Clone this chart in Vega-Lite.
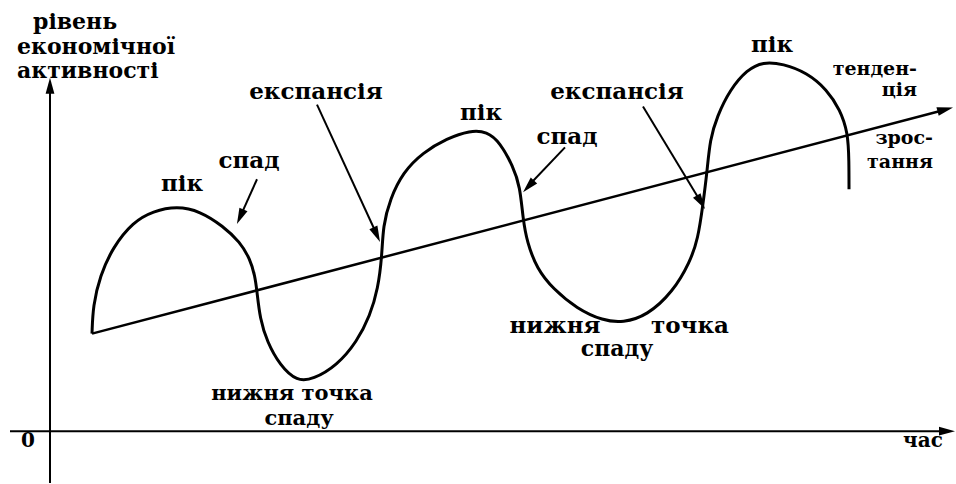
{
  "$schema": "https://vega.github.io/schema/vega-lite/v6.json",
  "width": 956,
  "height": 484,
  "autosize": {"type": "fit", "contains": "padding"},
  "padding": 0,
  "background": "white",
  "config": {"view": {"stroke": null}},
  "datasets": {
    "curve": [
      {"i":0,"x":4.2,"y":9.8},{"i":1,"x":4.3,"y":12.6},{"i":2,"x":5.0,"y":15.6},{"i":3,"x":6.3,"y":18.5},
      {"i":4,"x":8.3,"y":21.0},{"i":5,"x":10.3,"y":22.1},{"i":6,"x":12.7,"y":22.6},{"i":7,"x":15.0,"y":22.1},
      {"i":8,"x":17.3,"y":20.6},{"i":9,"x":19.0,"y":19.0},{"i":10,"x":20.0,"y":17.3},{"i":11,"x":20.5,"y":15.6},
      {"i":12,"x":20.7,"y":14.0},{"i":13,"x":21.0,"y":11.3},{"i":14,"x":21.7,"y":9.0},{"i":15,"x":23.0,"y":6.6},
      {"i":16,"x":24.7,"y":5.0},{"i":17,"x":26.3,"y":5.2},{"i":18,"x":28.7,"y":6.6},{"i":19,"x":30.7,"y":9.0},
      {"i":20,"x":32.0,"y":11.6},{"i":21,"x":32.8,"y":14.3},{"i":22,"x":33.2,"y":17.6},{"i":23,"x":33.3,"y":20.6},
      {"i":24,"x":34.0,"y":23.3},{"i":25,"x":35.3,"y":26.0},{"i":26,"x":37.3,"y":28.0},{"i":27,"x":39.7,"y":29.4},
      {"i":28,"x":42.0,"y":30.2},{"i":29,"x":43.7,"y":30.1},{"i":30,"x":45.0,"y":29.0},{"i":31,"x":46.3,"y":26.6},
      {"i":32,"x":47.0,"y":24.6},{"i":33,"x":47.3,"y":21.3},{"i":34,"x":47.7,"y":19.0},{"i":35,"x":48.7,"y":16.3},
      {"i":36,"x":50.3,"y":14.3},{"i":37,"x":52.7,"y":12.3},{"i":38,"x":55.3,"y":11.1},{"i":39,"x":57.3,"y":10.9},
      {"i":40,"x":59.7,"y":11.6},{"i":41,"x":62.3,"y":14.0},{"i":42,"x":64.0,"y":17.0},{"i":43,"x":64.8,"y":19.3},
      {"i":44,"x":65.3,"y":22.8},{"i":45,"x":65.7,"y":26.0},{"i":46,"x":66.0,"y":29.3},{"i":47,"x":66.7,"y":31.6},
      {"i":48,"x":68.0,"y":34.3},{"i":49,"x":69.7,"y":36.3},{"i":50,"x":71.3,"y":37.1},{"i":51,"x":73.3,"y":36.9},
      {"i":52,"x":75.7,"y":36.0},{"i":53,"x":77.7,"y":34.3},{"i":54,"x":79.0,"y":32.3},{"i":55,"x":79.8,"y":30.0},
      {"i":56,"x":79.9,"y":27.0},{"i":57,"x":79.9,"y":24.3}
    ],
    "segments": [
      {"name":"y-axis","x":0,"y":-5.2,"x2":0,"y2":34.5,"w":2},
      {"name":"x-axis","x":-4,"y":0,"x2":89.5,"y2":0,"w":2},
      {"name":"trend","x":4.2,"y":9.8,"x2":89.6,"y2":32.3,"w":2.5},
      {"name":"a1","x":20.7,"y":25.3,"x2":19.0,"y2":21.5,"w":2},
      {"name":"a2","x":26.7,"y":32.8,"x2":32.7,"y2":19.7,"w":2},
      {"name":"a3","x":51.5,"y":28.5,"x2":47.8,"y2":24.6,"w":2},
      {"name":"a4","x":59.3,"y":32.6,"x2":65.1,"y2":23.0,"w":2}
    ],
    "heads": [
      {"name":"y-axis","x":0,"y":34.7,"a":0},
      {"name":"x-axis","x":89.7,"y":0,"a":90},
      {"name":"trend","x":89.53,"y":32.3,"a":75},
      {"name":"a1","x":19.02,"y":21.53,"a":204},
      {"name":"a2","x":32.67,"y":19.73,"a":155.5},
      {"name":"a3","x":47.85,"y":24.58,"a":223},
      {"name":"a4","x":65.09,"y":22.99,"a":149}
    ],
    "labels": [
      {"t":"рівень","x":-1.7,"y":41.1,"al":"left","s":22},
      {"t":"економічної","x":-3.3,"y":38.6,"al":"left","s":22},
      {"t":"активності","x":-3.3,"y":36.2,"al":"left","s":22},
      {"t":"пік","x":13.2,"y":24.8,"al":"center","s":23},
      {"t":"спад","x":19.9,"y":27.1,"al":"center","s":23},
      {"t":"експансія","x":26.6,"y":34.1,"al":"center","s":23},
      {"t":"пік","x":43.1,"y":32.0,"al":"center","s":23},
      {"t":"спад","x":51.7,"y":29.5,"al":"center","s":23},
      {"t":"експансія","x":56.7,"y":34.1,"al":"center","s":23},
      {"t":"пік","x":72.2,"y":38.8,"al":"center","s":23},
      {"t":"тенден-","x":86.7,"y":36.35,"al":"right","s":19},
      {"t":"ція","x":86.7,"y":34.25,"al":"right","s":19},
      {"t":"зрос-","x":88.3,"y":29.4,"al":"right","s":19},
      {"t":"тання","x":88.3,"y":27.0,"al":"right","s":19},
      {"t":"нижня точка","x":24.2,"y":3.75,"al":"center","s":21},
      {"t":"спаду","x":24.9,"y":1.2,"al":"center","s":21},
      {"t":"нижня","x":50.5,"y":10.6,"al":"center","s":23},
      {"t":"точка","x":64.0,"y":10.6,"al":"center","s":23},
      {"t":"спаду","x":56.7,"y":8.3,"al":"center","s":22},
      {"t":"0","x":-2.2,"y":-1.0,"al":"center","s":20},
      {"t":"час","x":87.3,"y":-1.0,"al":"center","s":20}
    ]
  },
  "encoding": {
    "x": {"field": "x", "type": "quantitative", "axis": null, "scale": {"domain": [-5, 90.6], "nice": false, "zero": false}},
    "y": {"field": "y", "type": "quantitative", "axis": null, "scale": {"domain": [-5.1, 43.3], "nice": false, "zero": false}}
  },
  "layer": [
    {
      "data": {"name": "segments"},
      "mark": {"type": "rule", "color": "black"},
      "encoding": {
        "x2": {"field": "x2"},
        "y2": {"field": "y2"},
        "strokeWidth": {"field": "w", "type": "quantitative", "scale": null}
      }
    },
    {
      "data": {"name": "curve"},
      "mark": {"type": "line", "color": "black", "strokeWidth": 3, "interpolate": "basis"},
      "encoding": {
        "order": {"field": "i", "type": "quantitative"}
      }
    },
    {
      "data": {"name": "heads"},
      "mark": {"type": "point", "shape": "M0,-1L-0.55,1L0.55,1Z", "filled": true, "color": "black", "size": 256, "opacity": 1},
      "encoding": {
        "angle": {"field": "a", "type": "quantitative", "scale": null}
      }
    },
    {
      "data": {"name": "labels"},
      "transform": [{"filter": "datum.al == 'left'"}],
      "mark": {"type": "text", "align": "left", "font": "DejaVu Serif", "fontWeight": "bold", "baseline": "middle", "color": "black"},
      "encoding": {
        "text": {"field": "t"},
        "size": {"field": "s", "type": "quantitative", "scale": null}
      }
    },
    {
      "data": {"name": "labels"},
      "transform": [{"filter": "datum.al == 'center'"}],
      "mark": {"type": "text", "align": "center", "font": "DejaVu Serif", "fontWeight": "bold", "baseline": "middle", "color": "black"},
      "encoding": {
        "text": {"field": "t"},
        "size": {"field": "s", "type": "quantitative", "scale": null}
      }
    },
    {
      "data": {"name": "labels"},
      "transform": [{"filter": "datum.al == 'right'"}],
      "mark": {"type": "text", "align": "right", "font": "DejaVu Serif", "fontWeight": "bold", "baseline": "middle", "color": "black"},
      "encoding": {
        "text": {"field": "t"},
        "size": {"field": "s", "type": "quantitative", "scale": null}
      }
    }
  ]
}
